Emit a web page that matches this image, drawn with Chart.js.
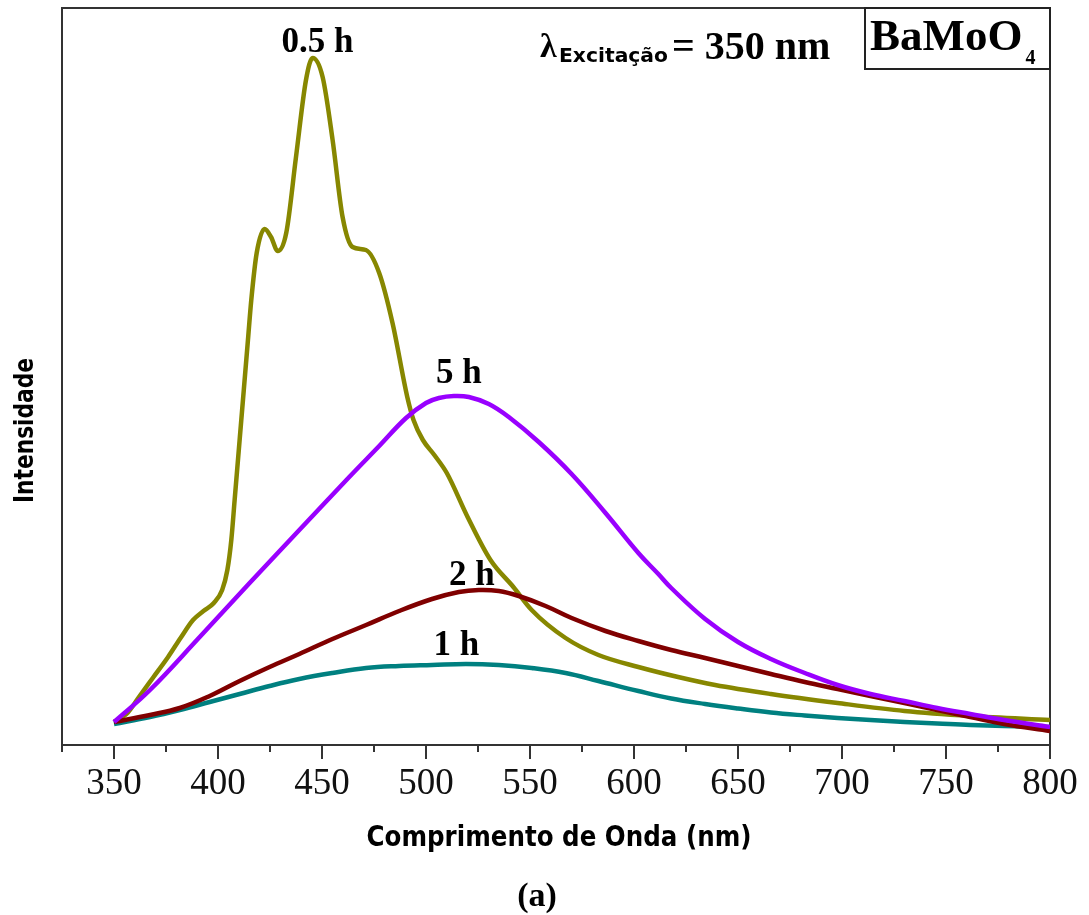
<!DOCTYPE html>
<html>
<head>
<meta charset="utf-8">
<title>BaMoO4 – Fotoluminescência</title>
<script src="https://cdn.jsdelivr.net/npm/chart.js@4.4.1/dist/chart.umd.min.js"></script>
<style>
  html, body { margin: 0; padding: 0; background: #ffffff; }
  #wrap { width: 1089px; height: 915px; position: relative; }
</style>
</head>
<body>
<div id="wrap"><canvas id="c" width="1089" height="915"></canvas></div>
<script>
// Emission spectra of BaMoO4 (excitation 350 nm), intensity in arbitrary units.

// 0.5 h
const wavelength05 = [350, 356, 362, 369, 376, 382, 388, 393, 398, 402, 404.5, 406.4, 408, 410.4, 414.4, 416, 418.6, 422.4, 425.5, 428.7, 432.8, 437.5, 442.3, 445.5, 450.3, 455.1, 459.9, 464.7, 471.1, 477.5, 483.9, 491, 494, 498.5, 504, 510, 520, 531, 542, 550.8, 567.1, 582.9, 602.1, 621.2, 639, 665.8, 697.9, 730, 761.7, 800];
const intensity05  = [23, 31, 48, 68, 88, 107, 125, 134, 142, 155, 175, 205, 245, 305, 405, 445, 492, 516, 508, 494, 512, 588, 665, 687, 668, 605, 528, 498, 495, 472, 422, 348, 325, 305, 290, 272, 228, 185, 158, 135, 107, 90, 78, 68, 60, 51, 42, 34, 29, 25];

// 1 h
const wavelength1 = [350, 367.3, 381.6, 396, 410.4, 424.8, 439.1, 455, 471.2, 487.1, 502.9, 519.2, 535, 550.8, 567.1, 582.9, 602.1, 617.9, 634.2, 650, 665.8, 682.1, 697.9, 713.7, 730, 745.8, 761.7, 777.9, 800];
const intensity1  = [21, 28, 35, 43, 51, 59, 66, 72, 77, 79, 80, 81, 80, 77, 72, 64, 54, 46.5, 41, 36.5, 32.5, 29.5, 27, 25, 23, 21.5, 20, 19, 18];

// 2 h
const wavelength2 = [350, 367.3, 381.6, 396, 410.4, 424.8, 439.1, 455, 471.2, 487.1, 502.9, 515.8, 525.4, 535, 544.6, 557.5, 570, 586.3, 602.1, 617.9, 634.2, 650, 665.8, 682.1, 697.9, 713.7, 730, 745.8, 761.7, 777.9, 800];
const intensity2  = [23, 30, 37, 49, 64, 78, 91, 106, 120, 134, 146, 153, 155, 154, 149, 139, 127, 114, 104, 95, 87, 79, 71, 63, 56, 49, 42, 35, 28, 21, 14];

// 5 h
const wavelength5 = [350, 367.3, 391.2, 415.2, 439.1, 463.1, 477.5, 490.4, 500, 506.2, 513.4, 520.6, 530.2, 539.8, 554.2, 570, 586.3, 602.1, 611.7, 617.9, 634.2, 650, 665.8, 682.1, 697.9, 713.7, 730, 745.8, 761.7, 777.9, 800];
const intensity5  = [23, 55, 108, 162, 215, 268, 299, 327, 342, 347, 349, 348, 341, 328, 303, 271, 232, 192, 171, 157, 126, 103, 86, 72, 60, 51, 44, 37, 31, 25, 18];

// x-axis tick labels (every 50 nm; minor ticks every 25 nm)
const tickLabels = [350, 400, 450, 500, 550, 600, 650, 700, 750, 800];

const seriesNames = ['0.5 h', '1 h', '2 h', '5 h'];

function toPoints(xs, ys) {
  return xs.map((x, i) => ({ x: x, y: ys[i] }));
}

// Curve label anchors in data coordinates (wavelength, intensity of baseline)
const curveLabels = [
  { text: '0.5 h', x: 447.8, y: 693 },
  { text: '5 h',   x: 515.8, y: 362 },
  { text: '2 h',   x: 522.0, y: 160 },
  { text: '1 h',   x: 514.6, y: 90 }
];

function fitText(ctx, text, x, y, font, width, align) {
  ctx.save();
  ctx.font = font;
  const w = ctx.measureText(text).width;
  const sx = width ? width / w : 1;
  let left = x;
  if (align === 'center') left = x - (w * sx) / 2;
  ctx.translate(left, y);
  ctx.scale(sx, 1);
  ctx.textAlign = 'left';
  ctx.textBaseline = 'alphabetic';
  ctx.fillText(text, 0, 0);
  ctx.restore();
}

const decorPlugin = {
  id: 'decor',
  beforeDatasetsDraw(chart) {
    const { ctx, chartArea: a, scales } = chart;
    const xs = scales.x;
    ctx.save();
    // frame around the plotting area
    ctx.strokeStyle = '#333333';
    ctx.lineWidth = 2;
    ctx.strokeRect(a.left, a.top, a.right - a.left, a.bottom - a.top);
    // outward tick marks: long at 50 nm, short at 25 nm
    ctx.beginPath();
    for (let v = xs.min; v <= xs.max + 0.001; v += 25) {
      const px = Math.round(xs.getPixelForValue(v));
      const len = (v % 50 === 0) ? 14 : 7;
      ctx.moveTo(px, a.bottom);
      ctx.lineTo(px, a.bottom + len);
    }
    ctx.stroke();
    ctx.restore();
  },
  afterDatasetsDraw(chart) {
    const { ctx, chartArea: a, scales } = chart;
    const xs = scales.x, ys = scales.y;
    ctx.save();
    ctx.fillStyle = '#000000';

    // curve labels
    curveLabels.forEach(l => {
      ctx.font = 'bold 35px "Liberation Serif", "Times New Roman", serif';
      ctx.textAlign = 'center';
      ctx.textBaseline = 'alphabetic';
      ctx.fillText(l.text, xs.getPixelForValue(l.x), ys.getPixelForValue(l.y));
    });

    // excitation wavelength note
    ctx.textAlign = 'left';
    ctx.font = 'bold 34px "Liberation Serif", serif';
    ctx.fillText('λ', 540, 57);
    fitText(ctx, 'Excitação', 559, 62, 'bold 20px "DejaVu Sans", sans-serif', 109);
    ctx.font = 'bold 40px "Liberation Serif", serif';
    ctx.textAlign = 'left';
    ctx.fillText('= 350 nm', 672, 59);

    // sample box
    ctx.strokeStyle = '#222222';
    ctx.lineWidth = 2;
    ctx.strokeRect(865, a.top, a.right - 865, 61);
    ctx.font = 'bold 45px "Liberation Serif", serif';
    ctx.fillText('BaMoO', 870, 50);
    const bw = ctx.measureText('BaMoO').width;
    ctx.font = 'bold 20px "Liberation Serif", serif';
    ctx.fillText('4', 870 + bw + 3, 64);

    // axis titles
    fitText(ctx, 'Comprimento de Onda (nm)', 559, 846, 'bold 28px "DejaVu Sans", sans-serif', 385, 'center');
    ctx.save();
    ctx.translate(33, 430.5);
    ctx.rotate(-Math.PI / 2);
    fitText(ctx, 'Intensidade', 0, 0, 'bold 27px "DejaVu Sans", sans-serif', 145, 'center');
    ctx.restore();

    // panel tag
    ctx.font = 'bold 34px "Liberation Serif", serif';
    ctx.textAlign = 'center';
    ctx.fillText('(a)', 537, 906);
    ctx.restore();
  }
};

const colors = ['#878700', '#008080', '#800000', '#9900ff'];
const wl = [wavelength05, wavelength1, wavelength2, wavelength5];
const it = [intensity05, intensity1, intensity2, intensity5];

new Chart(document.getElementById('c'), {
  type: 'line',
  data: {
    datasets: seriesNames.map((name, i) => ({
      label: name,
      data: toPoints(wl[i], it[i]),
      borderColor: colors[i],
      borderWidth: 4.5,
      pointRadius: 0,
      fill: false,
      // the narrow-band spectrum keeps its sharp peaks; the broad ones are drawn as smooth splines
      cubicInterpolationMode: i === 0 ? 'monotone' : 'default',
      tension: i === 0 ? 0 : 0.4,
      order: 3 - i
    }))
  },
  options: {
    responsive: false,
    animation: false,
    devicePixelRatio: 1,
    layout: { padding: { left: 62, top: 8, right: 39, bottom: 0 } },
    plugins: {
      legend: { display: false },
      tooltip: { enabled: false },
      title: { display: false }
    },
    scales: {
      x: {
        type: 'linear',
        min: 325,
        max: 800,
        afterFit(scale) { scale.height = 170; },
        border: { display: false },
        grid: { display: true, drawOnChartArea: false, drawTicks: true, tickLength: 14, color: 'rgba(0,0,0,0)' },
        ticks: {
          stepSize: 25,
          autoSkip: false,
          maxRotation: 0,
          minRotation: 0,
          padding: 3,
          color: '#111111',
          font: { family: '"Liberation Serif", "Times New Roman", serif', size: 37 },
          callback: (v) => tickLabels.includes(v) ? String(v) : ''
        }
      },
      y: {
        display: false,
        min: 0,
        max: 737
      }
    }
  },
  plugins: [decorPlugin]
});
</script>
</body>
</html>
